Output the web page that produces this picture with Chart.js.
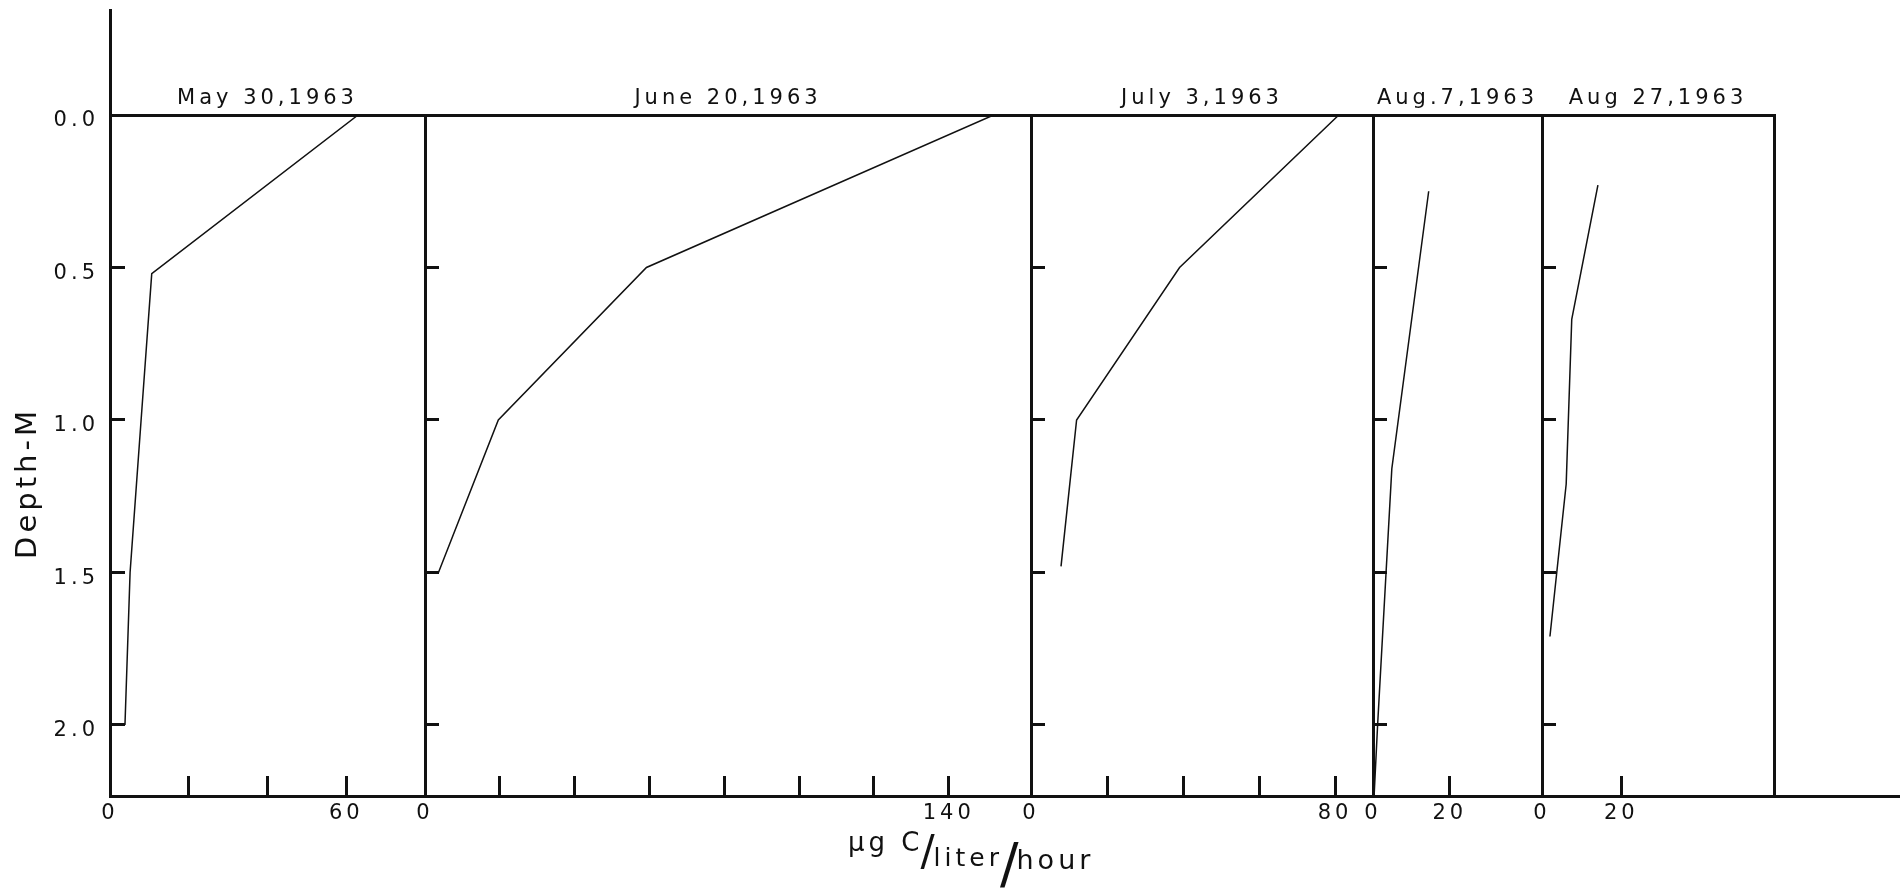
<!DOCTYPE html>
<html>
<head>
<meta charset="utf-8">
<title>Carbon uptake by depth, 1963</title>
<script src="https://cdn.jsdelivr.net/npm/chart.js@4.4.1/dist/chart.umd.min.js"></script>
<style>
  html, body { margin: 0; padding: 0; background: #fff; }
  #wrap { width: 1900px; height: 890px; }
</style>
</head>
<body>
<div id="wrap"><canvas id="chart1"></canvas></div>
<script>
const ink = '#111';

// one panel per sampling date
const panels = ['May 30,1963', 'June 20,1963', 'July 3,1963', 'Aug.7,1963', 'Aug 27,1963'];

// depth (m) and uptake (ug C/liter/hour)
const depthMay = [0, 0.52, 1.0, 1.5, 2.0];
const rateMay = [63, 10.6, 7.9, 5.1, 3.8];
const depthJune = [0, 0.5, 1.0, 1.5];
const rateJune = [152, 59.2, 19.6, 3.6];
const depthJuly = [0, 0.5, 1.0, 1.48];
const rateJuly = [81, 39.1, 12.0, 7.9];
const depthAug7 = [0.25, 1.16, 1.5, 2.0, 2.23];
const rateAug7 = [14.5, 4.9, 3.4, 1.2, 0.3];
const depthAug27 = [0.23, 0.67, 1.21, 1.71];
const rateAug27 = [14.1, 7.5, 6.1, 2.0];

const depths = [depthMay, depthJune, depthJuly, depthAug7, depthAug27];
const rates = [rateMay, rateJune, rateJuly, rateAug7, rateAug27];

// axis ranges, ticks and which ticks carry a number
const rateMax = [80, 162, 90, 44, 58.5];
const rateTicks = [
    [0, 20, 40, 60],
    [0, 20, 40, 60, 80, 100, 120, 140],
    [0, 20, 40, 60, 80],
    [0, 20],
    [0, 20]
];
const rateLabels = [[0, 60], [0, 140], [0, 80], [0, 20], [0, 20]];
const depthTicks = [0, 0.5, 1.0, 1.5, 2.0];
const depthMax = 2.233;

// layout: width of each panel on the page
const panelWidth = [315, 606, 342, 169, 232];

Chart.defaults.font.family = '"DejaVu Sans", sans-serif';
Chart.defaults.font.size = 21;
Chart.defaults.color = ink;

const depthAxis = {
    type: 'linear',
    axis: 'y',
    reverse: true,
    min: 0,
    max: depthMax,
    afterBuildTicks: axis => { axis.ticks = depthTicks.map(v => ({ value: v })); }
};

const scales = {
    y: {
        ...depthAxis,
        position: 'left',
        afterFit: axis => { axis.width = 110; },
        ticks: { padding: 26, labelOffset: 6, callback: v => v.toFixed(1) },
        grid: { drawOnChartArea: false, tickLength: -15, tickWidth: 3, tickColor: ink },
        border: { width: 3, color: ink }
    }
};

panels.forEach((name, i) => {
    const n = i + 1;
    // bottom rate axis of the panel
    scales['x' + n] = {
        type: 'linear',
        position: 'bottom',
        stack: 'rate',
        stackWeight: panelWidth[i],
        min: 0,
        max: rateMax[i],
        afterBuildTicks: axis => { axis.ticks = rateTicks[i].map(v => ({ value: v })); },
        afterFit: axis => { axis.height = 94; },
        ticks: {
            autoSkip: false,
            maxRotation: 0,
            padding: 25,
            callback: v => rateLabels[i].includes(v) ? String(v) : ''
        },
        grid: { drawOnChartArea: false, tickLength: -20, tickWidth: 3, tickColor: ink },
        border: { width: 3, color: ink }
    };
    // divider with inward depth ticks
    if (i > 0) {
        scales['y' + n] = {
            ...depthAxis,
            position: { ['x' + n]: 0 },
            ticks: { display: false },
            grid: { drawOnChartArea: false, tickLength: -15, tickWidth: 3, tickColor: ink },
            border: { width: 3, color: ink }
        };
    }
});

// top line with the dates (top boxes are laid out last-first)
for (let i = panels.length - 1; i >= 0; i--) {
    scales['t' + (i + 1)] = {
        type: 'linear',
        position: 'top',
        stack: 'date',
        stackWeight: panelWidth[i],
        min: 0,
        max: rateMax[i],
        afterFit: axis => { axis.height = 115; },
        ticks: { display: false },
        grid: { drawOnChartArea: false, drawTicks: false },
        border: { width: 3, color: ink },
        title: { display: true, text: panels[i], padding: { top: 86 } }
    };
}

scales.yEnd = {
    ...depthAxis,
    position: { x5: rateMax[4] },
    ticks: { display: false },
    grid: { drawOnChartArea: false, drawTicks: false },
    border: { width: 3, color: ink }
};

// unit label is set like a fraction
const unitParts = [
    { text: '\u00b5g C', size: 26, dy: 0, gap: -3 },
    { text: '/', size: 42, dy: 14, gap: -5 },
    { text: 'liter', size: 25, dy: 15, gap: -3 },
    { text: '/', size: 55, dy: 31, gap: -6 },
    { text: 'hour', size: 27, dy: 18, gap: 0 }
];

const extras = {
    id: 'extras',
    beforeDraw(chart) {
        chart.ctx.letterSpacing = '4px';
    },
    afterDraw(chart) {
        const { ctx, chartArea } = chart;
        ctx.save();
        ctx.strokeStyle = ink;
        ctx.lineWidth = 3;
        ctx.beginPath();
        // depth axis runs on above the frame
        ctx.moveTo(chartArea.left + 0.5, chartArea.top);
        ctx.lineTo(chartArea.left + 0.5, 9);
        // base line runs on to the edge
        ctx.moveTo(chartArea.right, chartArea.bottom + 0.5);
        ctx.lineTo(chart.width, chartArea.bottom + 0.5);
        ctx.stroke();

        ctx.fillStyle = ink;
        ctx.save();
        ctx.font = '29px "DejaVu Sans"';
        ctx.textAlign = 'center';
        ctx.textBaseline = 'middle';
        ctx.translate(28, 483);
        ctx.rotate(-Math.PI / 2);
        ctx.fillText('Depth-M', 0, 0);
        ctx.restore();

        ctx.textAlign = 'left';
        ctx.textBaseline = 'alphabetic';
        let x = 848;
        unitParts.forEach(p => {
            ctx.font = p.size + 'px "DejaVu Sans"';
            ctx.fillText(p.text, x, 851 + p.dy);
            x += ctx.measureText(p.text).width + p.gap;
        });
        ctx.restore();
    }
};

const chart1 = document.getElementById('chart1').getContext('2d');

new Chart(chart1, {
    type: 'scatter',
    data: {
        datasets: panels.map((name, i) => ({
            label: name,
            data: depths[i].map((d, j) => ({ x: rates[i][j], y: d })),
            xAxisID: 'x' + (i + 1),
            yAxisID: 'y',
            showLine: true,
            borderColor: ink,
            borderWidth: 1.5,
            pointRadius: 0
        }))
    },
    options: {
        maintainAspectRatio: false,
        animation: false,
        layout: { padding: { right: 126 } },
        scales: scales,
        plugins: {
            legend: { display: false },
            tooltip: { enabled: false }
        }
    },
    plugins: [extras]
});
</script>
</body>
</html>
